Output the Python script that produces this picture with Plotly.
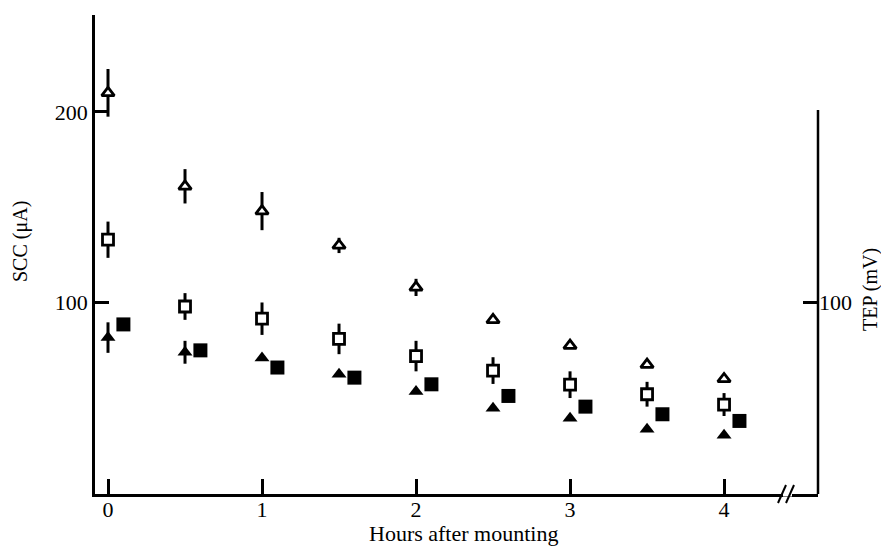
import plotly.graph_objects as go

# ---- data ----
hours = [0, 0.5, 1, 1.5, 2, 2.5, 3, 3.5, 4]
sq_offset = 0.1  # filled squares drawn slightly to the right of each time point

open_tri = [210, 161, 148, 130, 108, 91, 77.5, 67.5, 60]
open_tri_err = [12.5, 9, 10, 4, 4.5, 0, 0, 0, 0]

open_sq = [133, 98, 91.6, 81, 72, 64.4, 57, 52, 46.6]
open_sq_err = [9.5, 7, 8.5, 8, 8, 7, 7, 6.5, 6]

filled_tri = [81.7, 74, 71, 62.5, 53.4, 44.7, 39.4, 33.7, 30.5]
filled_tri_err = [8, 6, 0, 0, 0, 0, 0, 0, 0]

filled_sq = [88.6, 75, 66, 60.7, 57.2, 51.1, 45.5, 41.5, 38]

x_ticks = [0, 1, 2, 3, 4]
left_ticks = [100, 200]
right_ticks = [100]

# ---- layout geometry ----
W, H = 889, 548
ML, MR, MT, MB = 87, 79, 7, 62
PW, PH = W - ML - MR, H - MT - MB
yr = [-0.3, 250.8]
xr = [-0.0844, 4.61]


def px(x):
    return (x - ML) / PW


def py(y):
    return (H - MB - y) / PH


font = dict(family="Liberation Serif, Times New Roman, serif", size=20, color="black")
tick_font = dict(family="Liberation Serif, Times New Roman, serif", size=22, color="black")
title_font = dict(family="Liberation Serif, Times New Roman, serif", size=22, color="black")

fig = go.Figure()

err_style = dict(type="data", thickness=3, width=0, color="black")

fig.add_trace(go.Scatter(
    x=hours, y=open_sq, mode="markers",
    error_y=dict(array=open_sq_err, **err_style),
    marker=dict(symbol="square", size=11, color="white", line=dict(color="black", width=2.8)),
    showlegend=False))

fig.add_trace(go.Scatter(
    x=hours, y=open_tri, mode="markers",
    error_y=dict(array=open_tri_err, **err_style),
    marker=dict(symbol="triangle-up", size=11, color="white", line=dict(color="black", width=2.8)),
    showlegend=False))

fig.add_trace(go.Scatter(
    x=hours, y=filled_tri, mode="markers", yaxis="y2",
    error_y=dict(array=filled_tri_err, **err_style),
    marker=dict(symbol="triangle-up", size=13, color="black", line=dict(color="black", width=0)),
    showlegend=False))

fig.add_trace(go.Scatter(
    x=[h + sq_offset for h in hours], y=filled_sq, mode="markers", yaxis="y2",
    marker=dict(symbol="square", size=14, color="black", line=dict(color="black", width=0)),
    showlegend=False))

shapes = [
    # right axis line (only up to ~200)
    dict(type="line", xref="paper", yref="y", x0=1, x1=1, y0=yr[0], y1=201,
         line=dict(color="black", width=2.5)),
    # axis break gap
    dict(type="line", xref="paper", yref="paper", x0=px(775), x1=px(784), y0=0, y1=0,
         line=dict(color="white", width=5)),
    dict(type="line", xref="paper", yref="paper", x0=px(770), x1=px(778), y0=py(495), y1=py(477),
         line=dict(color="black", width=2)),
    dict(type="line", xref="paper", yref="paper", x0=px(778), x1=px(786), y0=py(495), y1=py(477),
         line=dict(color="black", width=2)),
]

annotations = [
    dict(text="TEP (mV)", xref="paper", yref="paper", x=px(862), y=py(282),
         textangle=-90, showarrow=False, font=font, xanchor="center", yanchor="middle"),
    dict(text="SCC (μA)", xref="paper", yref="paper", x=px(12), y=py(234),
         textangle=-90, showarrow=False, font=font, xanchor="center", yanchor="middle"),
    dict(text="Hours after mounting", xref="paper", yref="paper", x=px(455), y=py(525),
         showarrow=False, font=title_font, xanchor="center", yanchor="middle"),
]

fig.update_layout(
    width=W, height=H,
    margin=dict(l=ML, r=MR, t=MT, b=MB),
    paper_bgcolor="white", plot_bgcolor="white",
    font=font,
    xaxis=dict(range=xr, tickvals=x_ticks, ticks="inside", ticklen=15, tickwidth=2.5,
               tickcolor="black", showline=True, linecolor="black", linewidth=2.5,
               showgrid=False, zeroline=False, tickfont=tick_font, ticklabelstandoff=-6),
    yaxis=dict(range=yr, tickvals=left_ticks, ticks="inside", ticklen=14, tickwidth=2.5,
               tickcolor="black", showline=True, linecolor="black", linewidth=2.5,
               showgrid=False, zeroline=False, tickfont=tick_font),
    yaxis2=dict(range=yr, overlaying="y", side="right", tickvals=right_ticks,
                ticks="inside", ticklen=15, tickwidth=2.5, tickcolor="black",
                showline=False, showgrid=False, zeroline=False, tickfont=tick_font),
    shapes=shapes,
    annotations=annotations,
)

fig.write_html("out.html")
